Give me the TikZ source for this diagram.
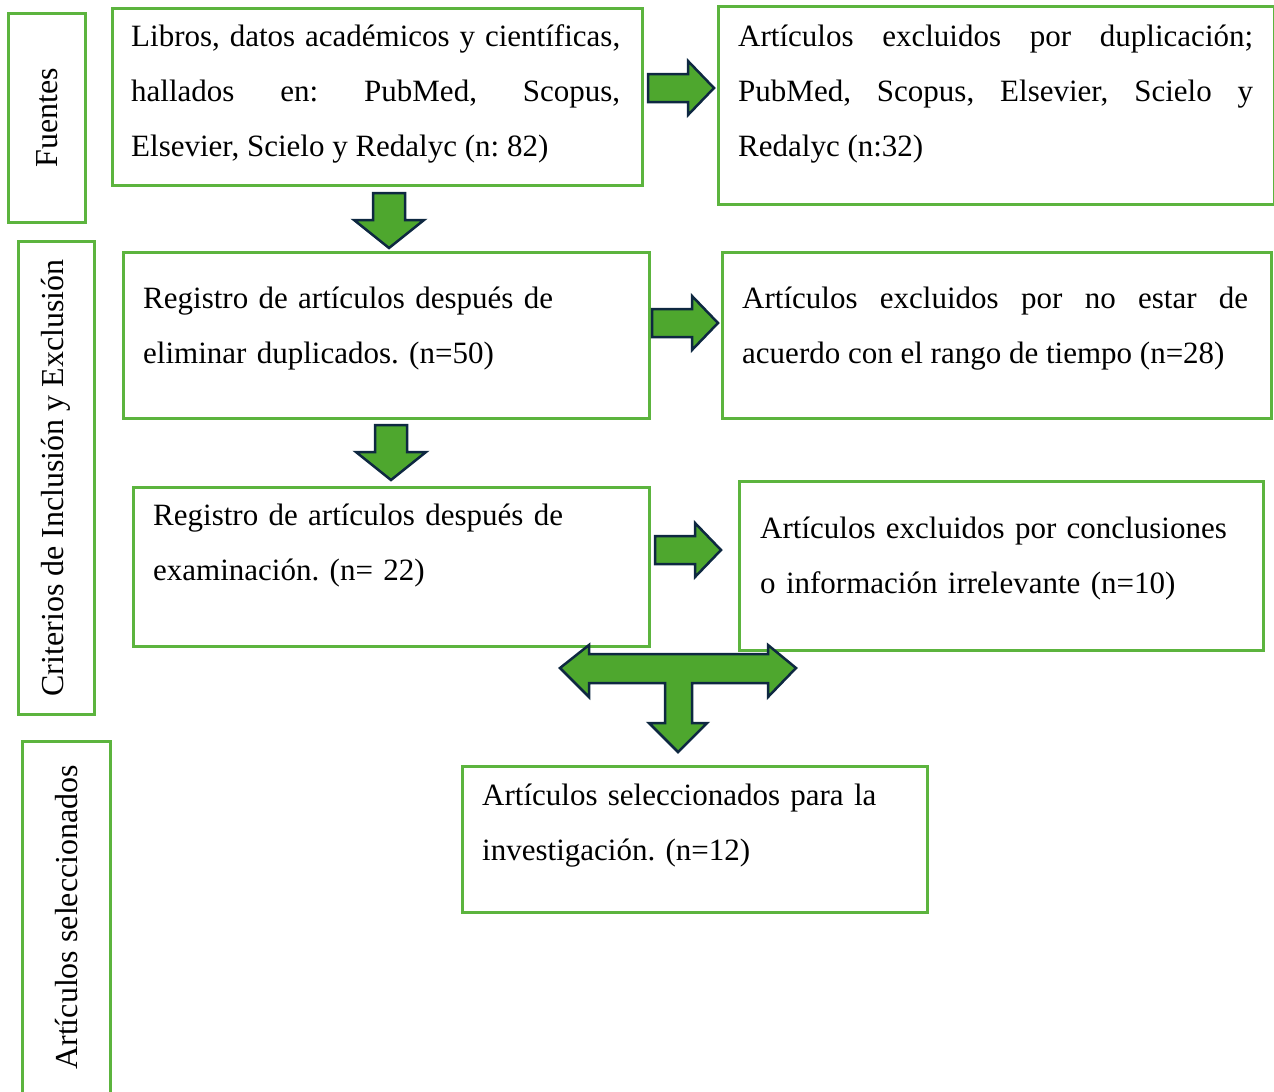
\documentclass[tikz,border=0pt]{standalone}
\usepackage{fontspec}
\setmainfont{Liberation Serif}
\usetikzlibrary{positioning}
\frenchspacing

\definecolor{boxgreen}{RGB}{92,180,62}
\definecolor{arrowfill}{RGB}{78,167,46}
\definecolor{arrowedge}{RGB}{14,40,65}

\tikzset{
  box/.style={draw=boxgreen, line width=2.5pt, anchor=north west, inner sep=0pt},
  sidebox/.style={box, font=\fontsize{32}{38}\selectfont},
  txt/.style={anchor=base west, inner sep=0pt, align=justify,
    font=\fontsize{31}{55}\selectfont},
  blockarrow/.style={draw=arrowedge, fill=arrowfill, line width=2.5pt, line join=miter}
}

\begin{document}
\begin{tikzpicture}[x=1pt,y=-1pt]
    \useasboundingbox (0,0) rectangle (1274,1092);

    % etapas
    \node(fuentes)[sidebox, minimum width=77, minimum height=209] at (7,12)
      {\rotatebox{90}{Fuentes}};
    \node(criterios)[sidebox, minimum width=76, minimum height=473] at (17,240)
      {\rotatebox{90}{Criterios de Inclusión y Exclusión}};
    \node(seleccion)[sidebox, minimum width=88, minimum height=352] at (21,740)
      {\rotatebox{90}{Artículos seleccionados}};

    % cajas
    \node(libros)[box, minimum width=530, minimum height=177] at (111,7) {};
    \node(libros_txt)[txt, text width=489] at (131,46)
      {Libros, datos académicos y científicas,\linebreak hallados en: PubMed, Scopus,\linebreak Elsevier, Scielo y Redalyc (n: 82)};

    \node(duplic)[box, minimum width=556, minimum height=198] at (717,5) {};
    \node(duplic_txt)[txt, text width=515] at (738,46)
      {Artículos excluidos por duplicación;\linebreak PubMed, Scopus, Elsevier, Scielo y\linebreak Redalyc (n:32)};

    \node(registro)[box, minimum width=526, minimum height=166] at (122,251) {};
    \node(registro_txt)[txt, text width=490, align=left] at (143,308)
      {Registro de artículos después de\\ eliminar duplicados. (n=50)};

    \node(tiempo)[box, minimum width=549, minimum height=166] at (721,251) {};
    \node(tiempo_txt)[txt, text width=506] at (742,308)
      {Artículos excluidos por no estar de\linebreak acuerdo con el rango de tiempo (n=28)};

    \node(examen)[box, minimum width=516, minimum height=159] at (132,486) {};
    \node(examen_txt)[txt, text width=480, align=left] at (153,525)
      {Registro de artículos después de\\ examinación. (n= 22)};

    \node(irrelev)[box, minimum width=524, minimum height=169] at (738,480) {};
    \node(irrelev_txt)[txt, text width=490, align=left] at (760,538)
      {Artículos excluidos por conclusiones\\ o información irrelevante (n=10)};

    \node(final)[box, minimum width=465, minimum height=146] at (461,765) {};
    \node(final_txt)[txt, text width=430, align=left] at (482,805)
      {Artículos seleccionados para la\\ investigación. (n=12)};

    % flechas
    \foreach \x/\y in {648/88, 652/323, 655/550}
      \draw[blockarrow] (\x,\y-14) -- ++(40,0) -- ++(0,-13) -- (\x+66,\y)
        -- (\x+40,\y+27) -- ++(0,-13) -- (\x,\y+14) -- cycle;

    \foreach \x/\y in {389/193, 391/425}
      \draw[blockarrow] (\x-16,\y) -- ++(0,27) -- (\x-35,\y+27) -- (\x,\y+55)
        -- (\x+35,\y+27) -- (\x+16,\y+27) -- (\x+16,\y) -- cycle;

    \draw[blockarrow] (560,668) -- (589,645) -- (589,654) -- (768,654) -- (768,645)
      -- (796,668) -- (768,697) -- (768,683) -- (692,683) -- (692,723) -- (707,723)
      -- (678,752) -- (649,723) -- (665,723) -- (665,683) -- (589,683) -- (589,697)
      -- cycle;
\end{tikzpicture}
\end{document}
